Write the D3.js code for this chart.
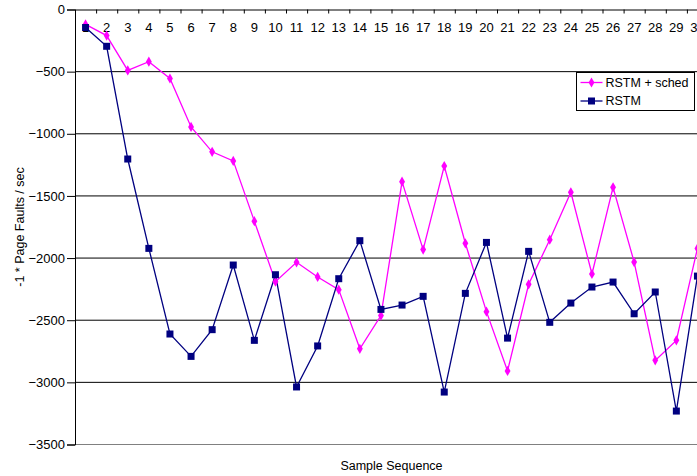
<!DOCTYPE html>
<html>
<head>
<meta charset="utf-8">
<script src="https://cdn.jsdelivr.net/npm/d3@7"></script>
<style>
  html, body { margin: 0; padding: 0; background: #fff; }
  svg { display: block; font-family: "Liberation Sans", Arial, sans-serif; }
</style>
</head>
<body>
<svg id="chart" width="697" height="476"></svg>
<script>
// Sample indices along the horizontal axis
const categories = d3.range(1, 31).map(String);

// -1 * page faults per second for each sample
const rstmSched = [-120, -210, -490, -420, -555, -945, -1145, -1218, -1703, -2190,
                   -2034, -2152, -2254, -2730, -2463, -1385, -1932, -1259, -1881, -2431,
                   -2908, -2211, -1852, -1471, -2128, -1431, -2032, -2823, -2662, -1922];
const rstm = [-145, -296, -1203, -1922, -2611, -2791, -2576, -2056, -2662, -2134,
              -3037, -2707, -2166, -1860, -2413, -2378, -2308, -3078, -2284, -1874,
              -2644, -1946, -2517, -2362, -2233, -2193, -2448, -2273, -3231, -2145];

const yTicks = [0, -500, -1000, -1500, -2000, -2500, -3000, -3500];
const seriesNames = ["RSTM + sched", "RSTM"];

const svg = d3.select("#chart");
const plotLeft = 75, plotRight = 708, plotTop = 9.5, plotBottom = 444.5;

const x = d3.scaleBand().domain(categories).range([plotLeft, plotRight]);
const xEdge = d3.scaleLinear().domain([0, categories.length]).range([plotLeft, plotRight]);
const y = d3.scaleLinear().domain([0, -3500]).range([plotTop, plotBottom]);

// Horizontal gridlines
svg.append("g")
  .selectAll("line")
  .data(yTicks.slice(1))
  .join("line")
  .attr("x1", plotLeft).attr("x2", plotRight)
  .attr("y1", d => y(d)).attr("y2", d => y(d))
  .attr("stroke", d => d === -3500 ? "#808080" : "#000")
  .attr("stroke-width", 1);

// Value axis
const yAxis = svg.append("g")
  .attr("transform", `translate(${plotLeft},0)`)
  .call(d3.axisLeft(y).tickValues(yTicks).tickSize(8).tickPadding(2).tickFormat(d3.format("d")));
yAxis.select(".domain").attr("stroke", "#000");
yAxis.selectAll("text").attr("font-size", 13).attr("fill", "#000")
  .attr("font-family", "Liberation Sans, Arial, sans-serif");

// Category axis along the zero line: ticks between categories
const xTickAxis = svg.append("g")
  .attr("transform", `translate(0,${y(0)})`)
  .call(d3.axisBottom(xEdge).tickValues(d3.range(0, categories.length + 1)).tickSize(4).tickFormat(""));
xTickAxis.select(".domain").attr("stroke", "#000");

const xLabelAxis = svg.append("g")
  .attr("transform", `translate(0,${y(0)})`)
  .call(d3.axisBottom(x).tickSize(0).tickPadding(13));
xLabelAxis.select(".domain").remove();
xLabelAxis.selectAll("text").attr("font-size", 13).attr("fill", "#000")
  .attr("font-family", "Liberation Sans, Arial, sans-serif");

// Series lines and markers
const line = d3.line()
  .x((d, i) => x(categories[i]) + x.bandwidth() / 2)
  .y(d => y(d));

const pink = "#ff00ff", navy = "#000080";

svg.append("path").datum(rstmSched)
  .attr("d", line).attr("fill", "none").attr("stroke", pink).attr("stroke-width", 1.3);
svg.append("path").datum(rstm)
  .attr("d", line).attr("fill", "none").attr("stroke", navy).attr("stroke-width", 1.3);

const diamond = d3.symbol().type(d3.symbolDiamond).size(30);
svg.append("g").selectAll("path")
  .data(rstmSched)
  .join("path")
  .attr("d", diamond)
  .attr("transform", (d, i) => `translate(${x(categories[i]) + x.bandwidth() / 2},${y(d)})`)
  .attr("fill", pink);

svg.append("g").selectAll("rect")
  .data(rstm)
  .join("rect")
  .attr("x", (d, i) => x(categories[i]) + x.bandwidth() / 2 - 3.5)
  .attr("y", d => y(d) - 3.5)
  .attr("width", 7).attr("height", 7)
  .attr("fill", navy);

// Axis titles
svg.append("text")
  .attr("x", (plotLeft + plotRight) / 2).attr("y", 470)
  .attr("text-anchor", "middle")
  .attr("font-size", 12.5)
  .text("Sample Sequence");

svg.append("text")
  .attr("transform", `translate(24,${(plotTop + plotBottom) / 2}) rotate(-90)`)
  .attr("text-anchor", "middle")
  .attr("font-size", 12.5)
  .text("-1 * Page Faults / sec");

// Legend
const legend = svg.append("g").attr("transform", "translate(576.5,72.5)");
legend.append("rect")
  .attr("width", 118).attr("height", 38)
  .attr("fill", "#fff").attr("stroke", "#000").attr("stroke-width", 1);

const items = [
  { name: seriesNames[0], color: pink, shape: "diamond" },
  { name: seriesNames[1], color: navy, shape: "square" }
];
items.forEach((it, i) => {
  const cy = 10 + i * 18.5;
  const g = legend.append("g").attr("transform", `translate(0,${cy})`);
  g.append("line").attr("x1", 4).attr("x2", 26).attr("y1", 0).attr("y2", 0)
    .attr("stroke", it.color).attr("stroke-width", 1.3);
  if (it.shape === "diamond") {
    g.append("path").attr("d", diamond).attr("transform", "translate(15,0)").attr("fill", it.color);
  } else {
    g.append("rect").attr("x", 11.5).attr("y", -3.5).attr("width", 7).attr("height", 7).attr("fill", it.color);
  }
  g.append("text").attr("x", 29).attr("y", 0).attr("dy", "0.35em")
    .attr("font-size", 12.5).text(it.name);
});
</script>
</body>
</html>
